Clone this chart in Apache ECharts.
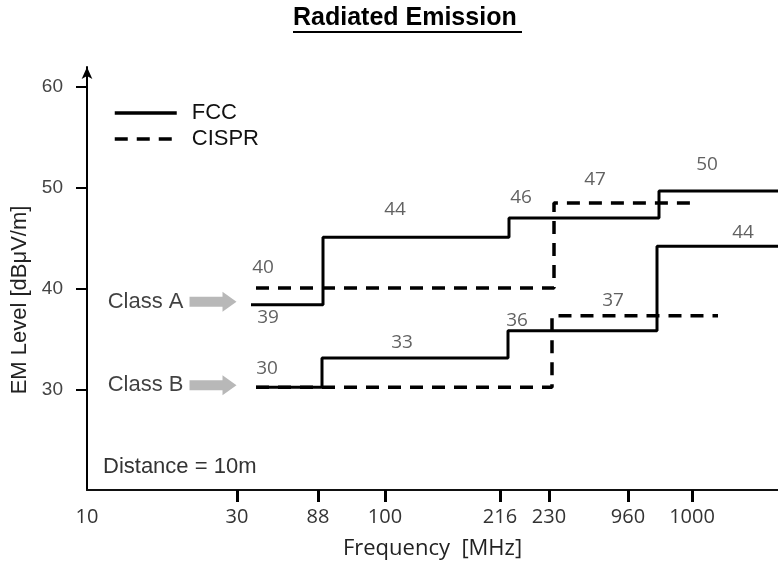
<!DOCTYPE html>
<html>
<head>
<meta charset="utf-8">
<script src="https://cdn.jsdelivr.net/npm/echarts@6/dist/echarts.min.js"></script>
<style>
  html, body { margin: 0; padding: 0; background: #fff; }
  #chart { width: 778px; height: 570px; }
</style>
</head>
<body>
<div id="chart"></div>
<script>
// schematic x positions along the frequency axis (not to scale), levels in dBuV/m
const xTickPos = [0, 150, 231, 298, 413, 462, 541, 605]
const xTickLabels = ['10', '30', '88', '100', '216', '230', '960', '1000']
const yTickValues = [30, 40, 50, 60]

const fccAPos = [164, 236, 422, 572, 691]
const fccALevel = [38.4, 45.1, 47.0, 49.7, 49.7]
const fccBPos = [169, 235, 421, 570, 691]
const fccBLevel = [30.2, 33.1, 35.8, 44.2, 44.2]
const cisprAPos = [169, 467, 610]
const cisprALevel = [40.05, 48.5, 48.5]
const cisprBPos = [169, 465, 631]
const cisprBLevel = [30.2, 37.3, 37.3]

const noteText = ['40', '39', '44', '46', '47', '50', '30', '33', '36', '37', '44']
const noteX = [176, 181, 308, 434, 508, 620, 180, 315, 430, 526, 656]
const noteY = [42.1, 37.1, 47.8, 49.0, 50.8, 52.3, 32.1, 34.6, 36.8, 38.8, 45.6]

const classNames = ['Class A', 'Class B']
const classX = [126, 126]
const classY = [38.7, 30.4]

const zip = (xs, ys) => xs.map((x, i) => [x, ys[i]])

let chart = echarts.init(document.getElementById('chart'))

const solid = { color: '#000', width: 3, type: 'solid' }
const dashed = { color: '#000', width: 3.5, type: [13, 9] }

let option = {
  animation: false,
  title: {
    text: 'Radiated Emission',
    left: 293,
    top: 6,
    padding: 0,
    textStyle: { fontFamily: 'Liberation Sans', fontSize: 25, fontWeight: 'bold', color: '#000' }
  },
  legend: {
    data: ['FCC', 'CISPR'],
    orient: 'vertical',
    left: 113,
    top: 102,
    padding: 0,
    itemWidth: 62,
    itemHeight: 22,
    itemGap: 4,
    selectedMode: false,
    itemStyle: { opacity: 0 },
    lineStyle: { width: 3.5 },
    textStyle: { fontFamily: 'Liberation Sans', fontSize: 22, color: '#111', padding: [0, 0, 0, 10] }
  },
  graphic: [
    { type: 'rect', left: 293, top: 31, shape: { width: 229, height: 2 }, style: { fill: '#000' } },
    { type: 'text', left: 103, top: 456, style: { text: 'Distance = 10m', fontFamily: 'Liberation Sans', fontSize: 22, fill: '#333' } }
  ],
  grid: { left: 87, right: 0, top: 67, bottom: 80 },
  xAxis: {
    type: 'value',
    min: 0,
    max: 691,
    name: 'Frequency  [MHz]',
    nameLocation: 'middle',
    nameGap: 48,
    nameTextStyle: { fontFamily: 'Open Sans', fontSize: 22, color: '#222' },
    axisLine: { lineStyle: { color: '#111', width: 2 } },
    axisTick: { show: true, length: 12, customValues: xTickPos.slice(1), lineStyle: { color: '#000', width: 3 } },
    axisLabel: {
      customValues: xTickPos,
      margin: 17,
      fontFamily: 'Open Sans',
      fontSize: 20,
      color: '#333',
      formatter: (v) => xTickLabels[xTickPos.indexOf(v)]
    },
    splitLine: { show: false }
  },
  yAxis: {
    type: 'value',
    min: 20,
    max: 62,
    name: 'EM Level [dB\u03bcV/m]',
    nameLocation: 'middle',
    nameGap: 54,
    nameTextStyle: { fontFamily: 'Liberation Sans', fontSize: 22, color: '#222', padding: [0, 43, 0, 0] },
    axisLine: { show: true, symbol: ['none', 'arrow'], symbolSize: [8, 12], lineStyle: { color: '#000', width: 2 } },
    axisTick: { show: true, length: 11, customValues: yTickValues, lineStyle: { color: '#000', width: 2 } },
    axisLabel: { customValues: yTickValues, margin: 24, fontFamily: 'Liberation Sans', fontSize: 19, color: '#444' },
    splitLine: { show: false }
  },
  series: [
    { name: 'CISPR', type: 'line', step: 'end', symbol: 'none', data: zip(cisprBPos, cisprBLevel), lineStyle: dashed, itemStyle: { color: '#000' } },
    { name: 'CISPR', type: 'line', step: 'end', symbol: 'none', data: zip(cisprAPos, cisprALevel), lineStyle: dashed, itemStyle: { color: '#000' } },
    { name: 'FCC', type: 'line', step: 'end', symbol: 'none', data: zip(fccAPos, fccALevel), lineStyle: solid, itemStyle: { color: '#000' } },
    { name: 'FCC', type: 'line', step: 'end', symbol: 'none', data: zip(fccBPos, fccBLevel), lineStyle: solid, itemStyle: { color: '#000' } },
    {
      name: 'notes',
      type: 'scatter',
      symbolSize: 1,
      itemStyle: { color: 'rgba(0,0,0,0)' },
      data: noteX.map((x, i) => ({ value: [x, noteY[i]], name: noteText[i] })),
      label: { show: true, position: 'inside', formatter: '{b}', fontFamily: 'Open Sans', fontSize: 19, color: '#3a3a3a' },
      emphasis: { disabled: true }
    },
    {
      name: 'classes',
      type: 'scatter',
      symbol: 'path://M0,5 L33,5 L33,0 L47,10 L33,20 L33,15 L0,15 Z',
      symbolSize: [47, 20],
      itemStyle: { color: '#a6a6a6' },
      data: classX.map((x, i) => ({ value: [x, classY[i]], name: classNames[i] })),
      label: { show: true, position: 'left', distance: 6, formatter: '{b}', fontFamily: 'Liberation Sans', fontSize: 22, color: '#111' },
      emphasis: { disabled: true }
    }
  ]
}
chart.setOption(option)
</script>
</body>
</html>
